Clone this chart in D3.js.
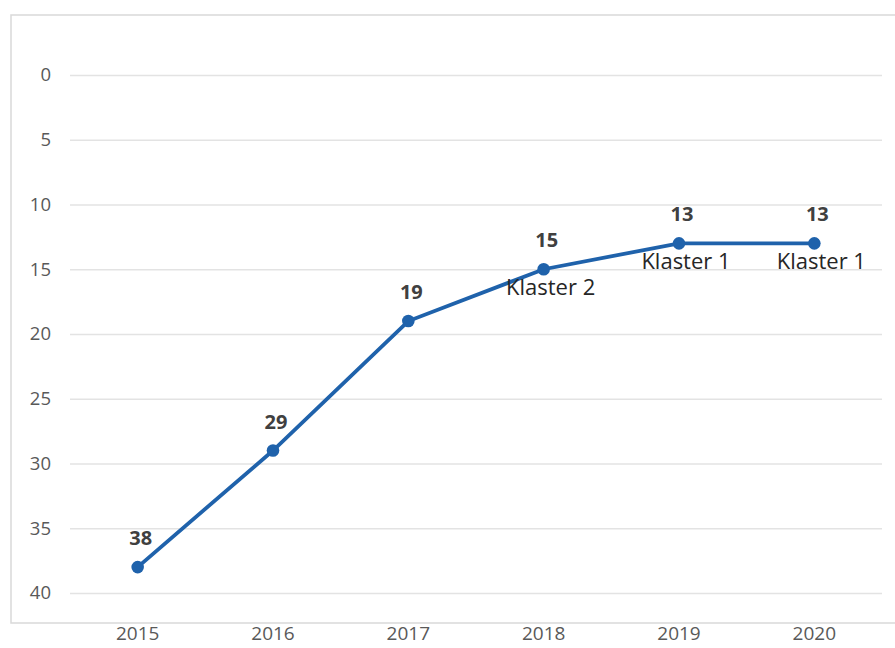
<!DOCTYPE html>
<html><head><meta charset="utf-8">
<script src="https://cdn.jsdelivr.net/npm/d3@7"></script>
<style>body{margin:0;background:#fff;}svg{display:block;}svg text{font-family:"Open Sans","Noto Sans",sans-serif;}</style>
</head><body><svg id="c" width="895" height="648"></svg>
<script>
const years = ["2015","2016","2017","2018","2019","2020"];
const ranks = [38, 29, 19, 15, 13, 13];
const clusters = ["", "", "", "Klaster 2", "Klaster 1", "Klaster 1"];
const yTicks = [0,5,10,15,20,25,30,35,40];

(function(){
const svg = d3.select("#c");
const mLeft = 70, mRight = 882, mTop = 75, mBottom = 593;
const FONT = '"Open Sans","Noto Sans",sans-serif';

svg.append("rect").attr("x",11).attr("y",15).attr("width",900).attr("height",608)
  .attr("fill","#fff").attr("stroke","#d9d9d9").attr("stroke-width",1.5);

const x = d3.scaleBand().domain(years).range([mLeft,mRight]);
const y = d3.scaleLinear().domain([0,40]).range([mTop,mBottom]);

const yAxis = svg.append("g").attr("transform",`translate(${mLeft},0)`)
  .call(d3.axisLeft(y).tickValues(yTicks).tickSize(-(mRight-mLeft)).tickPadding(19));
yAxis.attr("font-family",FONT);
yAxis.select(".domain").remove();
yAxis.selectAll("line").attr("stroke","#e3e3e3").attr("stroke-width",1.3);
yAxis.selectAll("text").attr("fill","#595959").attr("font-size",18.5);

const xAxis = svg.append("g").attr("transform",`translate(0,${mBottom})`)
  .call(d3.axisBottom(x).tickSize(0).tickPadding(34));
xAxis.attr("font-family",FONT);
xAxis.select(".domain").remove();
xAxis.selectAll("text").attr("fill","#595959").attr("font-size",19);

const cx = d => x(d) + x.bandwidth()/2;
const data = years.map((yr,i)=>({yr, v:ranks[i], c:clusters[i]}));

svg.append("path").datum(data)
  .attr("fill","none").attr("stroke","#1f62ab").attr("stroke-width",3.8)
  .attr("d", d3.line().x(d=>cx(d.yr)).y(d=>y(d.v)));

svg.selectAll("circle.pt").data(data).join("circle")
  .attr("cx",d=>cx(d.yr)).attr("cy",d=>y(d.v)).attr("r",6.3).attr("fill","#1f62ab");

svg.selectAll("text.val").data(data).join("text").attr("class","val")
  .attr("x",d=>cx(d.yr)+3).attr("y",d=>y(d.v)-22)
  .attr("text-anchor","middle").attr("font-weight","bold").attr("font-size",20)
  .attr("fill","#404040").text(d=>d.v);

svg.selectAll("text.cl").data(data.filter(d=>d.c)).join("text").attr("class","cl")
  .attr("x",d=>cx(d.yr)+7).attr("y",d=>y(d.v)+26)
  .attr("text-anchor","middle").attr("font-size",22)
  .attr("fill","#262626").text(d=>d.c);
})();
</script></body></html>
